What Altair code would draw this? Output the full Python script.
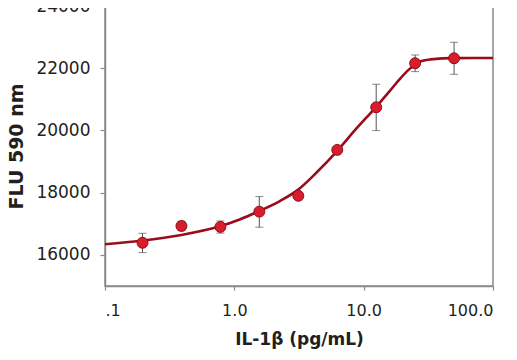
import altair as alt
import pandas as pd

# measured points
conc = [0.195, 0.39, 0.78, 1.56, 3.125, 6.25, 12.5, 25, 50]
flu = [16390, 16930, 16900, 17390, 17900, 19375, 20745, 22160, 22320]
err_lo = [16075, 16780, 16700, 16890, None, None, 19995, 21890, 21805]
err_hi = [16695, 17080, 17090, 17875, None, None, 21485, 22425, 22835]

# fitted curve
curve_x = [0.1, 0.19, 0.39, 0.76, 1.1, 1.5, 2.25, 3.1, 4.4, 6.2, 8.7, 12.5,
           16, 19, 22, 25, 28, 33, 50, 100]
curve_y = [16340, 16455, 16640, 16910, 17140, 17380, 17730, 18090, 18680,
           19330, 20040, 20760, 21280, 21650, 21930, 22120, 22230, 22285,
           22325, 22330]

x_ticks = [0.1, 1, 10, 100]
y_ticks = [16000, 18000, 20000, 22000, 24000]

pts = pd.DataFrame({"conc": conc, "flu": flu, "lo": err_lo, "hi": err_hi})
errs = pts.dropna()
curve = pd.DataFrame({"x": curve_x, "y": curve_y})

FONT = "DejaVu Sans"
xscale = alt.Scale(type="log", domain=[0.1, 100])
yscale = alt.Scale(domain=[15000, 24000], nice=False)

xaxis = alt.Axis(
    values=x_ticks,
    labelExpr="datum.value == 0.1 ? '.1' : format(datum.value, '.1f')",
    title="IL-1β (pg/mL)",
    grid=False,
    tickSize=4,
    labelPadding=12,
    labelFontSize=16,
    titlePadding=13,
    titleFontSize=17,
)
yaxis = alt.Axis(
    values=y_ticks,
    format="d",
    title="FLU 590 nm",
    grid=False,
    tickSize=5,
    labelPadding=10,
    labelFontSize=17,
    titlePadding=9,
    titleFontSize=19,
)

X = alt.X("x:Q", scale=xscale, axis=xaxis)
Y = alt.Y("y:Q", scale=yscale, axis=yaxis)

line = alt.Chart(curve).mark_line(
    color="#9a0c1c", strokeWidth=2.6, interpolate="monotone"
).encode(x=X, y=Y)

rules = alt.Chart(errs).mark_rule(color="#555555", strokeWidth=1).encode(
    x=alt.X("conc:Q", scale=xscale, axis=xaxis),
    y=alt.Y("lo:Q", scale=yscale, axis=yaxis),
    y2="hi:Q",
)
cap_lo = alt.Chart(errs).mark_tick(
    color="#555555", orient="horizontal", size=8, thickness=1
).encode(
    x=alt.X("conc:Q", scale=xscale, axis=xaxis),
    y=alt.Y("lo:Q", scale=yscale, axis=yaxis),
)
cap_hi = alt.Chart(errs).mark_tick(
    color="#555555", orient="horizontal", size=8, thickness=1
).encode(
    x=alt.X("conc:Q", scale=xscale, axis=xaxis),
    y=alt.Y("hi:Q", scale=yscale, axis=yaxis),
)
dots = alt.Chart(pts).mark_point(
    filled=True, shape="circle", size=120, color="#d81d2c",
    stroke="#8e0f1a", strokeWidth=1, opacity=1
).encode(
    x=alt.X("conc:Q", scale=xscale, axis=xaxis),
    y=alt.Y("flu:Q", scale=yscale, axis=yaxis),
)

chart = alt.layer(rules, cap_lo, cap_hi, line, dots).properties(
    width=388, height=280,
    autosize=alt.AutoSizeParams(type="none"),
    padding={"left": 97, "top": -2, "right": 16, "bottom": 66},
).configure_view(
    stroke="#8a8a8a", strokeWidth=1.5
).configure_axis(
    domainColor="#8a8a8a", domainWidth=1.5,
    tickColor="#8a8a8a", tickWidth=1.2,
    labelFont=FONT, labelColor="#231f20",
    titleFont=FONT, titleFontWeight="bold", titleColor="#231f20",
)

chart.save("out.html", embed_options={"renderer": "svg", "actions": False})
